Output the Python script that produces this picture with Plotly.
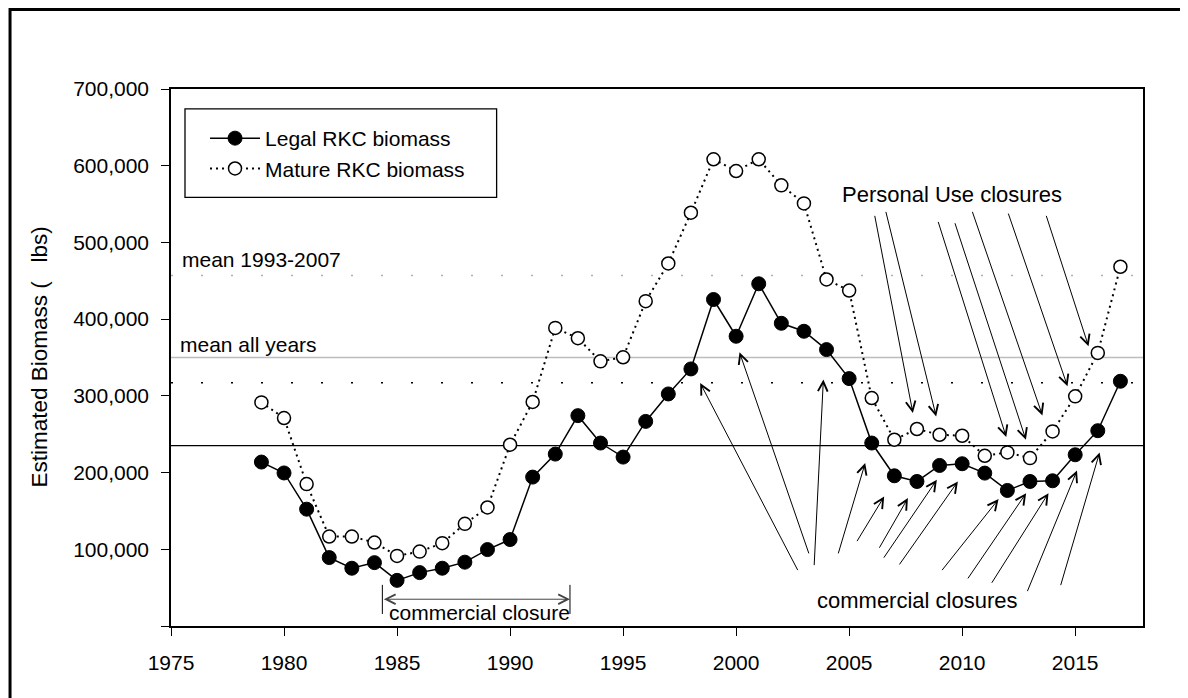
import plotly.graph_objects as go

# ---------------- data ----------------
years = list(range(1979, 2018))
legal_biomass = [213700, 199500, 152300, 89200, 75300, 82600, 59500, 69600, 75300, 83200,
                 99600, 112700, 194100, 224100, 274200, 238500, 220200, 266700, 302500, 335100,
                 425600, 377700, 446100, 394600, 384200, 360300, 322500, 238500, 195800, 188400,
                 209300, 211500, 199300, 176700, 188400, 189300, 223200, 254600, 319000]
mature_biomass = [291500, 271100, 185000, 116600, 116600, 108800, 91400, 97000, 108000, 133200,
                  154500, 236300, 292000, 388600, 375100, 345000, 350300, 423400, 472600, 538700,
                  608400, 593100, 608400, 574400, 550900, 451700, 437300, 297200, 242800, 256800,
                  249300, 248000, 221900, 226300, 218900, 253700, 299400, 356000, 468300]

legal_mean_all = 235000
legal_mean_93_07 = 317000
mature_mean_all = 350000
mature_mean_93_07 = 457000

x_ticks = [1975, 1980, 1985, 1990, 1995, 2000, 2005, 2010, 2015]
y_ticks = [0, 100000, 200000, 300000, 400000, 500000, 600000, 700000]
y_ticktext = ["", "100,000", "200,000", "300,000", "400,000", "500,000", "600,000", "700,000"]

# arrows: (tail_year, tail_value, head_year, head_value)
personal_use_arrows = [
    (2006.12, 536600, 2007.82, 277700),
    (2006.61, 541800, 2008.85, 273200),
    (2008.92, 528700, 2011.95, 246300),
    (2009.66, 527000, 2012.82, 242800),
    (2010.43, 541800, 2013.55, 274500),
    (2012.02, 539600, 2014.66, 312400),
    (2013.70, 536600, 2015.59, 364600),
]
commercial_arrows = [
    (2002.76, 70900, 1998.41, 316800),
    (2003.24, 92700, 2000.15, 356800),
    (2003.45, 77400, 2003.86, 321200),
    (2004.50, 92700, 2005.71, 212400),
    (2005.31, 108700, 2006.55, 168800),
    (2006.30, 100100, 2007.60, 166700),
    (2006.49, 87100, 2008.88, 190600),
    (2007.18, 78300, 2009.81, 188400),
    (2009.06, 70900, 2011.61, 165400),
    (2010.21, 60100, 2012.83, 173200),
    (2011.27, 54400, 2013.82, 173200),
    (2012.86, 43500, 2015.08, 202700),
    (2014.34, 51300, 2016.08, 226200),
]
closure_start, closure_end = 1984.35, 1992.65

FONT = "Liberation Sans, Arial, sans-serif"

fig = go.Figure()

fig.add_trace(go.Scatter(
    x=years, y=legal_biomass, name="Legal RKC biomass", mode="lines+markers",
    line=dict(color="black", width=1.5),
    marker=dict(symbol="circle", size=14, color="black", line=dict(color="black", width=1)),
))
fig.add_trace(go.Scatter(
    x=years, y=mature_biomass, name="Mature RKC biomass", mode="lines+markers",
    line=dict(color="black", width=2, dash="2px,4px"),
    marker=dict(symbol="circle", size=13, color="white", line=dict(color="black", width=1.5)),
))

shapes = []
# mean lines
shapes.append(dict(type="line", xref="paper", x0=0, x1=1, yref="y", y0=mature_mean_93_07, y1=mature_mean_93_07,
                   line=dict(color="#b0b0b0", width=1.5, dash="2px,28px"), layer="below"))
shapes.append(dict(type="line", xref="paper", x0=0, x1=1, yref="y", y0=mature_mean_all, y1=mature_mean_all,
                   line=dict(color="#bdbdbd", width=1.5), layer="below"))
shapes.append(dict(type="line", xref="paper", x0=0, x1=1, yref="y", y0=legal_mean_93_07, y1=legal_mean_93_07,
                   line=dict(color="black", width=1.5, dash="2px,28px"), layer="below"))
shapes.append(dict(type="line", xref="paper", x0=0, x1=1, yref="y", y0=legal_mean_all, y1=legal_mean_all,
                   line=dict(color="black", width=1.3), layer="below"))
# legend box
shapes.append(dict(type="rect", xref="paper", yref="paper", x0=0.0144, x1=0.335, y0=0.798, y1=0.963,
                   line=dict(color="black", width=1.3), fillcolor="white", layer="below"))
# commercial closure bracket bars
for xc in (closure_start, closure_end):
    shapes.append(dict(type="line", xref="x", yref="y", x0=xc, x1=xc, y0=15700, y1=53600,
                       line=dict(color="black", width=1)))
# outer frame (top and left edges, at the figure's edge)
shapes.append(dict(type="path", xref="paper", yref="paper",
                   path="M -0.1656,-0.2 L -0.1656,1.1480 L 1.1,1.1480",
                   line=dict(color="black", width=3)))

annotations = []
for tx, ty, hx, hy in personal_use_arrows + commercial_arrows:
    annotations.append(dict(x=hx, y=hy, ax=tx, ay=ty, xref="x", yref="y", axref="x", ayref="y",
                            text="", showarrow=True, arrowhead=5, arrowsize=1.9, arrowwidth=1,
                            arrowcolor="black"))
# double-headed closure arrow
annotations.append(dict(x=closure_end, y=34900, ax=closure_start, ay=34900, xref="x", yref="y",
                        axref="x", ayref="y", text="", showarrow=True, arrowhead=5, startarrowhead=5,
                        arrowside="end+start", arrowsize=1.9, startarrowsize=1.9, arrowwidth=1,
                        arrowcolor="#444"))

def txt(s, x, y, xanchor="left", size=21):
    annotations.append(dict(text=s, x=x, y=y, xref="x", yref="y", xanchor=xanchor, yanchor="middle",
                            showarrow=False, font=dict(family=FONT, size=size, color="black")))

txt("mean 1993-2007", 1975.4, 477800)
txt("mean all years", 1975.33, 366800)
txt("Personal Use closures", 2009.56, 562700, xanchor="center", size=22)
txt("commercial closures", 2008.03, 32600, xanchor="center", size=22)
txt("commercial closure", 1984.55, 17000, size=21)

# y-axis title
annotations.append(dict(text="Estimated Biomass (   lbs)", x=-0.1358, y=0.5, xref="paper", yref="paper",
                        textangle=-90, showarrow=False, xanchor="center", yanchor="middle",
                        font=dict(family=FONT, size=22.5, color="black")))

# page body adds an 8px margin, so the figure is 8px smaller and margins are shifted
fig.update_layout(
    width=1180, height=690,
    margin=dict(l=163, r=45, t=81, b=72),
    paper_bgcolor="white", plot_bgcolor="white",
    font=dict(family=FONT, size=21, color="black"),
    shapes=shapes, annotations=annotations,
    showlegend=True,
    legend=dict(x=0.035, y=0.946, xanchor="left", yanchor="top", bgcolor="rgba(0,0,0,0)",
                borderwidth=0, itemwidth=50, font=dict(family=FONT, size=21, color="black"),
                tracegroupgap=0),
)
fig.update_xaxes(range=[1975, 2018], tickvals=x_ticks, ticks="outside", ticklen=8, tickwidth=1.3,
                 tickcolor="black", showline=True, linecolor="black", linewidth=1.5, mirror=True,
                 showgrid=False, zeroline=False, ticklabelstandoff=9)
fig.update_yaxes(range=[0, 700000], tickvals=y_ticks, ticktext=y_ticktext, ticks="outside", ticklen=8,
                 tickwidth=1.3, tickcolor="black", showline=True, linecolor="black", linewidth=1.5,
                 mirror=True, showgrid=False, zeroline=False, ticklabelstandoff=8)

fig.write_html("out.html")
